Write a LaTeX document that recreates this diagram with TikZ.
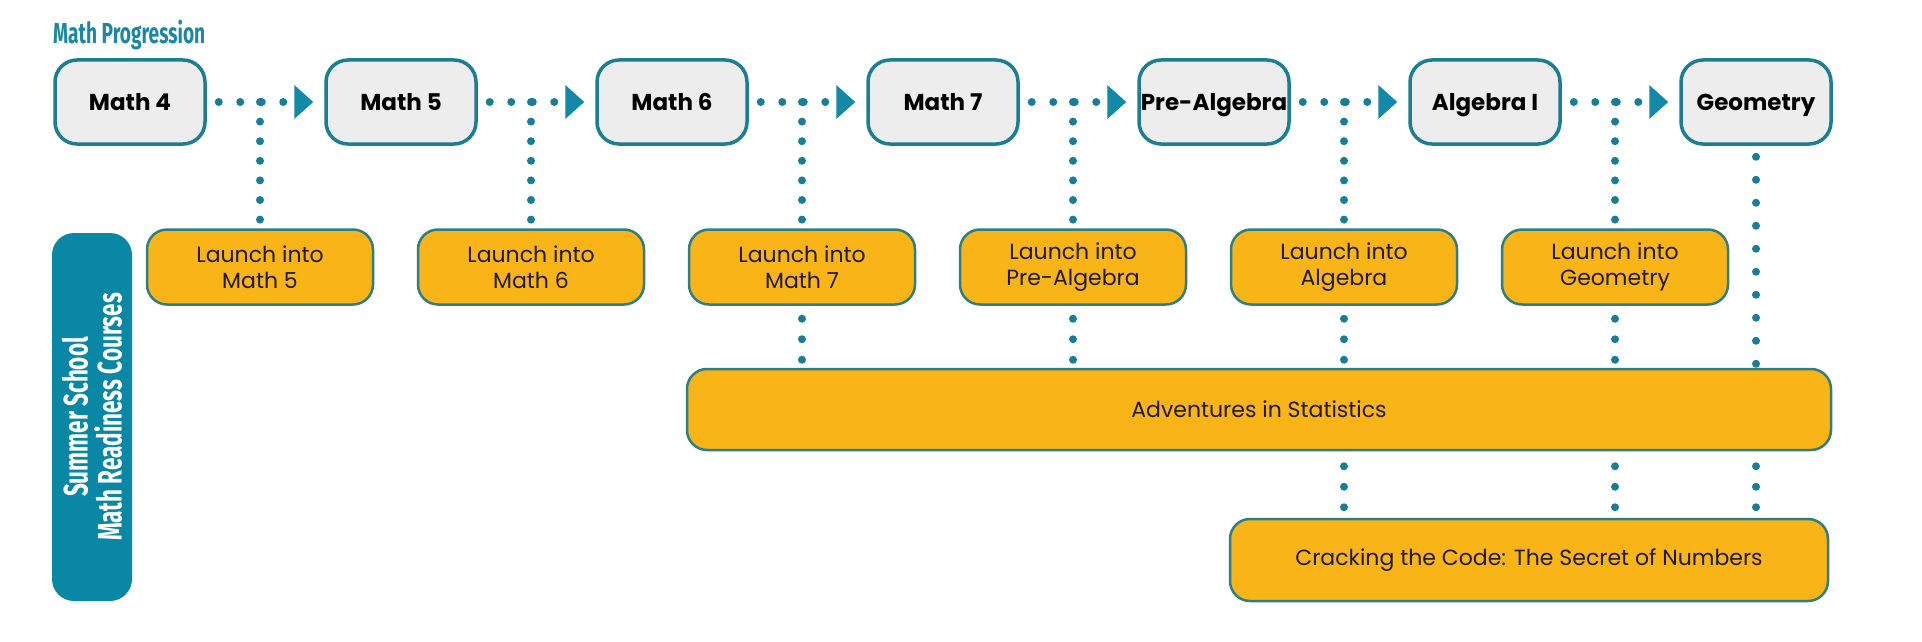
\documentclass[tikz,border=0pt]{standalone}
\usepackage{fontspec}
\setmainfont{Poppins}
\newfontfamily\condfont[FakeStretch=0.66]{Fira Sans}
\usetikzlibrary{arrows.meta,calc}
\definecolor{tealB}{HTML}{1B7E93}
\definecolor{grayF}{HTML}{EDEDEE}
\definecolor{dotC}{HTML}{167E99}
\definecolor{triC}{HTML}{1389A8}
\definecolor{labelC}{HTML}{0A87A5}
\definecolor{goldF}{HTML}{F9B418}
\definecolor{goldB}{HTML}{2E7F84}
\definecolor{titleC}{HTML}{1B87A2}
\definecolor{txtC}{HTML}{1E1A1A}
\begin{document}
\begin{tikzpicture}[x=1pt,y=-1pt,
  topbox/.style={draw=tealB, line width=3.5pt, fill=grayF, rounded corners=22pt,
    minimum width=150pt, minimum height=84pt, inner sep=0pt,
    text height=17pt, text depth=0pt,
    font=\fontsize{23}{27}\selectfont\bfseries, text=black},
  launchbox/.style={draw=goldB, line width=2.5pt, fill=goldF, rounded corners=20pt,
    minimum width=226pt, minimum height=75pt, inner sep=0pt, align=center,
    font=\fontsize{22}{26.5}\selectfont, text=txtC},
  widebox/.style={draw=goldB, line width=2.5pt, fill=goldF, rounded corners=20pt,
    inner sep=0pt, font=\fontsize{22}{27}\selectfont, text=txtC},
  hdots/.style={draw=dotC, line width=8pt, line cap=round, dash pattern=on 0pt off 21.5pt,
    shorten <=12pt, shorten >=11pt,
    -{Triangle[length=19pt,width=34pt,line width=0pt,color=triC]}},
  vdotsA/.style={draw=dotC, line width=8pt, line cap=round, dash pattern=on 0pt off 19.6pt},
  vdotsB/.style={draw=dotC, line width=8pt, line cap=round, dash pattern=on 0pt off 20.5pt},
  vdotsC/.style={draw=dotC, line width=8pt, line cap=round, dash pattern=on 0pt off 23pt},
  labelbox/.style={fill=labelC, rounded corners=22pt, inner sep=0pt, align=center,
    text=white, font=\condfont\bfseries\fontsize{34}{34}\selectfont}
]
\useasboundingbox (0,0) rectangle (1922,642);

\node[anchor=base west, inner sep=0pt, text=titleC,
  font=\condfont\bfseries\fontsize{29}{29}\selectfont] (title) at (53,44) {Math Progression};

% top row
\node[topbox] (m4) at (130,102) {Math 4};
\node[topbox] (m5) at (401,102) {Math 5};
\node[topbox] (m6) at (672,102) {Math 6};
\node[topbox] (m7) at (943,102) {Math 7};
\node[topbox] (pa) at (1214,102) {Pre-Algebra};
\node[topbox] (a1) at (1485,102) {Algebra I};
\node[topbox] (geo) at (1756,102) {Geometry};

% launch row
\node[launchbox] (l1) at (260,267) {Launch into\\Math 5};
\node[launchbox] (l2) at (531,267) {Launch into\\Math 6};
\node[launchbox] (l3) at (802,267) {Launch into\\Math 7};
\node[launchbox] (l4) at (1073,267) {Launch into\\Pre-Algebra};
\node[launchbox] (l5) at (1344,267) {Launch into\\Algebra};
\node[launchbox] (l6) at (1615,267) {Launch into\\Geometry};

% wide courses
\node[widebox, minimum width=1144pt, minimum height=81pt] (adv) at (1259,409.5) {Adventures in Statistics};
\node[widebox, minimum width=598pt, minimum height=82pt] (crack) at (1529,560) {Cracking the Code: The Secret of Numbers};

% side label
\node[labelbox, rotate=90, minimum width=368pt, minimum height=80pt] (lab) at (92,417)
  {Summer School\\Math Readiness Courses};

% horizontal connectors
\draw[hdots] (m4.east) -- (m5.west);
\draw[hdots] (m5.east) -- (m6.west);
\draw[hdots] (m6.east) -- (m7.west);
\draw[hdots] (m7.east) -- (pa.west);
\draw[hdots] (pa.east) -- (a1.west);
\draw[hdots] (a1.east) -- (geo.west);

% branches to launch courses
\draw[vdotsA] (l1 |- m4) -- (l1.north);
\draw[vdotsA] (l2 |- m5) -- (l2.north);
\draw[vdotsA] (l3 |- m6) -- (l3.north);
\draw[vdotsA] (l4 |- m7) -- (l4.north);
\draw[vdotsA] (l5 |- pa) -- (l5.north);
\draw[vdotsA] (l6 |- a1) -- (l6.north);

% launch to adventures
\draw[vdotsB, shorten <=13pt] (l3.south) -- (l3.south |- adv.north);
\draw[vdotsB, shorten <=13pt] (l4.south) -- (l4.south |- adv.north);
\draw[vdotsB, shorten <=13pt] (l5.south) -- (l5.south |- adv.north);
\draw[vdotsB, shorten <=13pt] (l6.south) -- (l6.south |- adv.north);
\draw[vdotsC, shorten <=11pt] (geo.south) -- (geo.south |- adv.north);

% adventures to cracking
\draw[vdotsB, shorten <=15pt] (adv.south -| l5) -- (crack.north -| l5);
\draw[vdotsB, shorten <=15pt] (adv.south -| l6) -- (crack.north -| l6);
\draw[vdotsB, shorten <=15pt] (adv.south -| geo) -- (crack.north -| geo);
\end{tikzpicture}
\end{document}
